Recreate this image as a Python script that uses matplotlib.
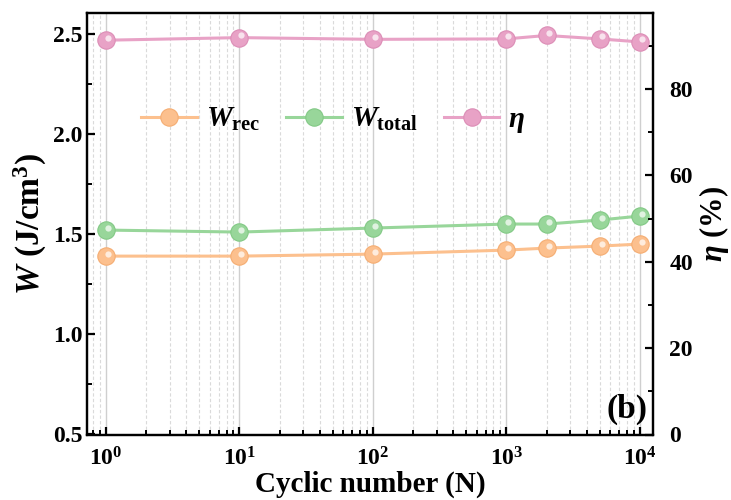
import matplotlib
matplotlib.use("Agg")
import matplotlib.pyplot as plt
import matplotlib.transforms as mtransforms
from matplotlib.ticker import LogLocator, MultipleLocator, NullFormatter

plt.rcParams['font.family'] = ['Liberation Serif', 'DejaVu Serif']
plt.rcParams['font.weight'] = 'bold'
plt.rcParams['mathtext.fontset'] = 'custom'
plt.rcParams['mathtext.rm'] = 'Liberation Serif:bold'
plt.rcParams['mathtext.it'] = 'Liberation Serif:italic:bold'
plt.rcParams['mathtext.bf'] = 'Liberation Serif:bold'
plt.rcParams['axes.linewidth'] = 1.6

cycles = [1, 10, 100, 1000, 2000, 5000, 10000]
w_rec = [1.39, 1.39, 1.40, 1.42, 1.43, 1.44, 1.45]
w_total = [1.52, 1.51, 1.53, 1.55, 1.55, 1.57, 1.59]
eta = [91.3, 91.9, 91.5, 91.6, 92.4, 91.6, 90.9]

c_rec = '#FCC08E'
c_tot = '#98D69A'
c_eta = '#E8A2C6'
e_rec = '#F5AD72'
e_tot = '#82C985'
e_eta = '#DC8DB6'

fig = plt.figure(figsize=(7.31, 5.0), dpi=100)
ax = fig.add_axes([0.119, 0.131, 0.774, 0.843])
ax2 = ax.twinx()

hl = mtransforms.ScaledTranslation(2/100, 2.5/100, fig.dpi_scale_trans)

def sphere(a, x, y, c, e, label):
    l, = a.plot(x, y, '-o', color=c, lw=2.2, ms=12.5, mec=e, mew=0.8, mfc=c,
                label=label, zorder=3)
    a.plot(x, y, 'o', ls='none', ms=4.5, mfc='white', mec='none', alpha=0.7,
           transform=a.transData + hl, zorder=4)
    return l

l1 = sphere(ax, cycles, w_rec, c_rec, e_rec, r'$W_{\mathrm{rec}}$')
l2 = sphere(ax, cycles, w_total, c_tot, e_tot, r'$W_{\mathrm{total}}$')
l3 = sphere(ax2, cycles, eta, c_eta, e_eta, r'$\eta$')

ax.set_xscale('log')
ax.set_xlim(0.72, 12500)
ax.set_ylim(0.5, 2.603)
ax2.set_ylim(0, 97.6)

ax.xaxis.set_major_locator(LogLocator(base=10, numticks=10))
ax.xaxis.set_minor_locator(LogLocator(base=10, subs=range(2, 10), numticks=20))
ax.xaxis.set_minor_formatter(NullFormatter())
ax.yaxis.set_major_locator(MultipleLocator(0.5))
ax.yaxis.set_minor_locator(MultipleLocator(0.25))
ax2.yaxis.set_major_locator(MultipleLocator(20))
ax2.yaxis.set_minor_locator(MultipleLocator(10))

ax.grid(True, which='major', axis='x', color='#cfcfcf', lw=1.0, ls='-')
ax.grid(True, which='minor', axis='x', color='#dadada', lw=0.8, ls=(0, (3, 2)))
ax.set_axisbelow(True)

ax.tick_params(axis='both', which='major', direction='in', length=6, width=1.6,
               labelsize=17, top=False, right=False)
ax.tick_params(axis='both', which='minor', direction='in', length=3.5, width=1.4,
               top=False, right=False)
ax.tick_params(axis='x', pad=9)
ax.tick_params(axis='y', pad=3)
ax2.tick_params(axis='y', which='major', direction='in', length=6, width=1.6,
                labelsize=17, pad=12)
ax2.tick_params(axis='y', which='minor', direction='in', length=3.5, width=1.4)

for lab in ax.get_xticklabels() + ax.get_yticklabels() + ax2.get_yticklabels():
    lab.set_fontweight('bold')

ax.set_xlabel('Cyclic number (N)', fontsize=21, fontweight='bold', labelpad=0)
ax.set_ylabel(r'$W$ (J/cm$^3$)', fontsize=24, fontweight='bold', labelpad=3)
ax2.set_ylabel(r'$\eta$ (%)', fontsize=22, fontweight='bold', labelpad=3)

ax.legend(handles=[l1, l2, l3], loc='center', bbox_to_anchor=(0.435, 0.745), ncol=3,
          frameon=False, fontsize=21, handlelength=1.9, columnspacing=0.9,
          handletextpad=0.3)

ax.text(0.99, 0.06, '(b)', transform=ax.transAxes, ha='right', va='center',
        fontsize=24, fontweight='bold')

fig.savefig('out.png', dpi=100)
